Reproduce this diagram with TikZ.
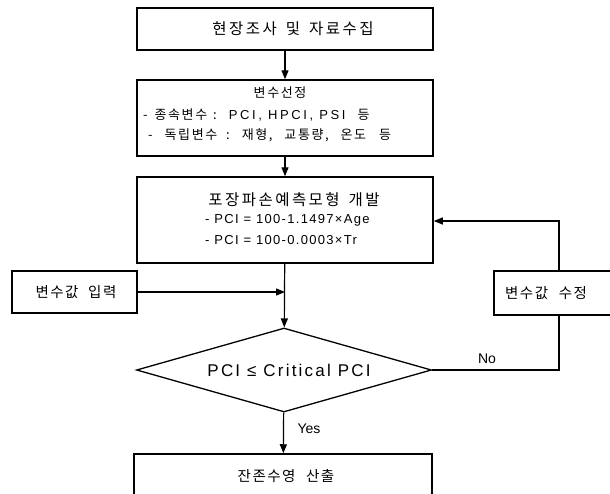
\documentclass[tikz,border=0pt]{standalone}
\usepackage{fontspec}
\setmainfont{Liberation Sans}
\newfontfamily\krw{Noto Sans CJK KR}[LetterSpace=16]
\newfontfamily\krm{Noto Sans CJK KR}[LetterSpace=10]
\newfontfamily\krt{Noto Sans CJK KR}[LetterSpace=12]
\newfontfamily\latw{Liberation Sans}[LetterSpace=20]
\newfontfamily\latm{Liberation Sans}[LetterSpace=10]
\newfontfamily\latd{Liberation Sans}[LetterSpace=13]
\newcommand\gp[1]{\hspace{#1pt}}
\usetikzlibrary{shapes.geometric,arrows.meta}
\tikzset{
  box/.style={draw, line width=1.5pt, inner sep=0pt, rectangle},
  arr/.style={-{Triangle[length=9pt,width=7pt]}, line width=1.2pt},
  ln/.style={line width=1.2pt},
  bigkr/.style={font=\krw\fontsize{15.5}{17}\selectfont},
  midkr/.style={font=\krm\fontsize{14.5}{16}\selectfont},
  smkr/.style={font=\krt\fontsize{13}{15}\selectfont},
  txt/.style={inner sep=0pt}
}
\begin{document}
\begin{tikzpicture}[x=1pt,y=-1pt]
\useasboundingbox (0,0) rectangle (610,493);
\clip (0,0) rectangle (610,493);

% boxes
\node[box, minimum width=296, minimum height=42] (b1) at (285,29) {};
\node[txt, bigkr] (t1) at (293,29) {현장조사\gp{3} 및\gp{3} 자료수집};
\node[box, minimum width=296, minimum height=76] (b2) at (285,118) {};
\node[box, minimum width=296, minimum height=86] (b3) at (285,220) {};
\node[box, minimum width=125, minimum height=42] (bin) at (74.5,292) {};
\node[txt, midkr] (tin) at (76,292) {변수값\gp{5} 입력};
\node[box, minimum width=124, minimum height=44] (bmod) at (556,293) {};
\node[txt, midkr, anchor=west] (tmod) at (505,293) {변수값\gp{6} 수정};
\node[draw, line width=1.3pt, shape=diamond, aspect=3.5, inner sep=0pt, minimum width=295, minimum height=84] (dec) at (284,370) {};
\node[txt, font=\latd\fontsize{17}{19}\selectfont] (tdec) at (289,370) {PCI ≤ Critical PCI};
\node[box, minimum width=298, minimum height=80] (bout) at (283,494) {};
\node[txt, midkr] (tout) at (286,476) {잔존수영\gp{6} 산출};

% texts in box 2
\node[txt, font=\krt\fontsize{13}{15}\selectfont] (t2a) at (280,93) {변수선정};
\node[txt, anchor=west] (t2b) at (143,115) {{\krt\fontsize{13}{15}\selectfont -\gp{7}종속변수\gp{6}:\gp{12}}{\latw\fontsize{13}{15}\selectfont PCI, HPCI, PSI}{\krt\fontsize{13}{15}\selectfont\gp{12}등}};
\node[txt, anchor=west, smkr] (t2c) at (148,135) {-\gp{12}독립변수\gp{9}:\gp{12}재형,\gp{12}교통량,\gp{12}온도\gp{13}등};

% texts in box 3
\node[txt, bigkr] (t3a) at (294,200) {포장파손예측모형\gp{3} 개발};
\node[txt, anchor=west, font=\latm\fontsize{13}{15}\selectfont] (t3b) at (205,220) {- PCI = 100-1.1497×Age};
\node[txt, anchor=west, font=\latm\fontsize{13}{15}\selectfont] (t3c) at (205,240) {- PCI = 100-0.0003×Tr};

% connectors
\coordinate (rx) at (559,221);
\coordinate (jn) at (b3.south |- bin.east);
\draw[arr] (b1) -- (b2);
\draw[arr] (b2) -- (b3);
\draw[arr] (b3) -- (dec);
\draw[arr] (bin) -- (jn);
\draw[ln] (dec.east) -- (dec.east -| rx) -- (bmod.south -| rx);
\draw[arr] (bmod.north -| rx) -- (rx) -- (b3.east |- rx);
\draw[arr] (dec) -- (bout);
\node[txt, font=\fontsize{14}{16}\selectfont] (lno) at (487,359) {No};
\node[txt, font=\fontsize{14}{16}\selectfont] (lyes) at (309,429) {Yes};
\end{tikzpicture}
\end{document}
